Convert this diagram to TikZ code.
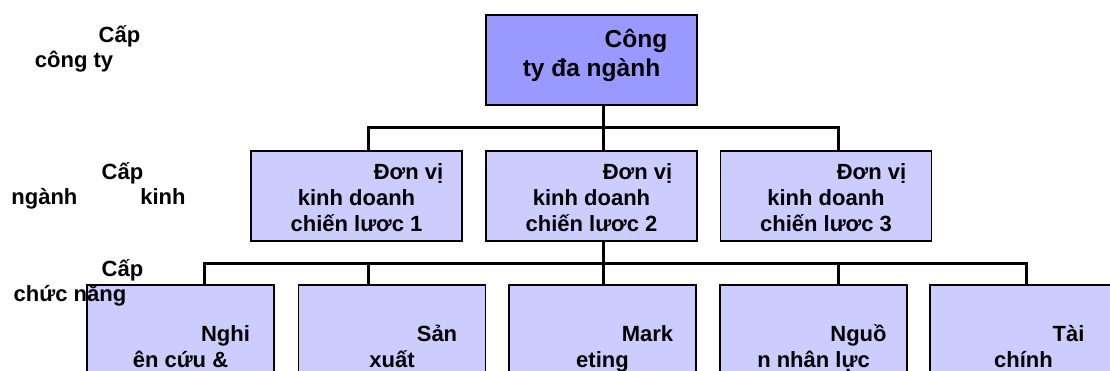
\documentclass[tikz,border=0pt]{standalone}
\usepackage{fontspec}
\setmainfont{Liberation Sans}
\definecolor{topfill}{HTML}{9999FF}
\definecolor{boxfill}{HTML}{CCCCFF}
\newcommand{\upstrut}[1]{\rule{0pt}{#1}}
\newcommand{\dnstrut}[1]{\rule[-#1]{0pt}{0pt}}
\begin{document}
\begin{tikzpicture}[x=1pt,y=-1pt,
  boxbase/.style={draw=black, line width=1.5pt, inner sep=0pt, align=center},
  topbox/.style={boxbase, fill=topfill, minimum width=211pt, minimum height=90pt,
    font=\fontsize{24.5}{29}\selectfont\bfseries},
  midbox/.style={boxbase, fill=boxfill, minimum width=211pt, minimum height=90pt,
    font=\fontsize{22}{26}\selectfont\bfseries},
  botbox/.style={boxbase, fill=boxfill, minimum width=187pt, minimum height=124pt,
    font=\fontsize{22}{26}\selectfont\bfseries},
  conn/.style={line width=3pt},
  lbl/.style={inner sep=0pt, align=center, font=\fontsize{22}{25}\selectfont\bfseries}
]
\useasboundingbox (0,0) rectangle (1110,371);
\clip (0,0) rectangle (1110,371);

% boxes
\node[topbox] (top) at (591.5,60) {\upstrut{22pt}\hspace*{89pt}Công\\ty đa ngành\dnstrut{17pt}};
\node[midbox] (mid1) at (356.5,196) {\upstrut{22pt}\hspace*{104pt}Đơn vị\\kinh doanh\\chiến lươc 1\dnstrut{2pt}};
\node[midbox] (mid2) at (591.5,196) {\upstrut{22pt}\hspace*{92pt}Đơn vị\\kinh doanh\\chiến lươc 2\dnstrut{2pt}};
\node[midbox] (mid3) at (826,196) {\upstrut{22pt}\hspace*{91pt}Đơn vị\\kinh doanh\\chiến lươc 3\dnstrut{2pt}};
\node[botbox] (bot1) at (180.5,347) {\upstrut{22pt}\hspace*{90pt}Nghi\\ên cứu \&\dnstrut{8pt}};
\node[botbox] (bot2) at (392,347) {\upstrut{22pt}\hspace*{90pt}Sản\\xuất\dnstrut{8pt}};
\node[botbox] (bot3) at (602.5,347) {\upstrut{22pt}\hspace*{90pt}Mark\\eting\dnstrut{8pt}};
\node[botbox] (bot4) at (813.5,347) {\upstrut{22pt}\hspace*{90pt}Nguồ\\n nhân lực\dnstrut{8pt}};
\node[botbox] (bot5) at (1023.5,347) {\upstrut{22pt}\hspace*{90pt}Tài\\chính\dnstrut{8pt}};

% junction coordinates
\coordinate (b1) at (603,128);
\coordinate (j1) at (368,128);
\coordinate (j3) at (838,128);
\coordinate (k1) at (204,263);
\coordinate (k2) at (368,263);
\coordinate (k4) at (838,263);
\coordinate (k5) at (1026,263);

% connectors
\draw[conn] (top.south -| b1) -- (mid2.north -| b1);
\draw[conn] (mid1.north -| j1) -- (j1) -- (j3) -- (mid3.north -| j3);
\draw[conn] (mid2.south -| b1) -- (bot3.north -| b1);
\draw[conn] (bot1.north -| k1) -- (k1) -- (k5) -- (bot5.north -| k5);
\draw[conn] (bot2.north -| k2) -- (k2);
\draw[conn] (bot4.north -| k4) -- (k4);

% level labels
\node[lbl] (l1) at (74,49) {\hspace*{91pt}Cấp\\công ty};
\node[lbl] (l2) at (98.5,186) {\hspace*{48pt}Cấp\\ngành\hspace{63pt}kinh};
\node[lbl] (l3) at (70,283) {\hspace*{105pt}Cấp\\chức năng};
\end{tikzpicture}
\end{document}
